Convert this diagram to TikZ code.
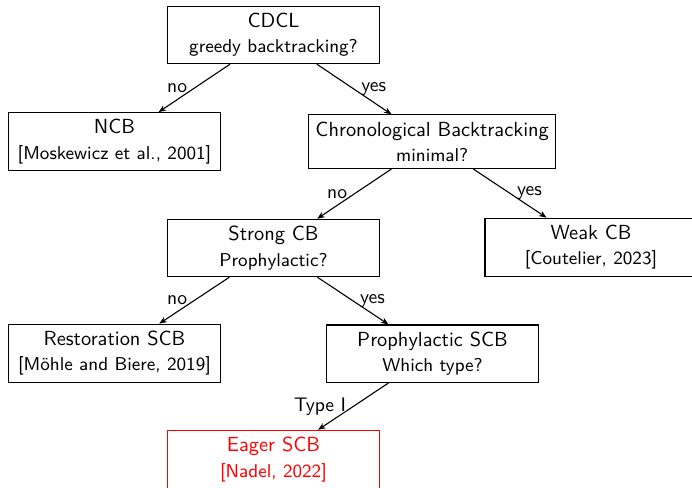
\documentclass[tikz,border=0pt]{standalone}
\usepackage{fontspec}
\usetikzlibrary{arrows.meta}
\renewcommand{\familydefault}{\sfdefault}
\tikzset{
  box/.style={draw, rectangle, align=center, minimum width=106pt, inner sep=3.4pt,
    line width=0.55pt, font=\sffamily\fontsize{10.2}{12.7}\selectfont},
  conn/.style={-{Stealth[length=3.8pt,width=3pt]}, line width=0.55pt},
  lab/.style={font=\sffamily\fontsize{9.8}{11}\selectfont, inner sep=3.3pt},
  hl/.style={draw=red, text=red}
}
\newcommand{\sub}{\fontsize{9.3}{12.7}\selectfont}
\begin{document}
\begin{tikzpicture}[x=0.5pt, y=-0.5pt]
\useasboundingbox (0,0) rectangle (692,488);
\node[box] (cdcl)   at (273.5,35)    {CDCL\\\sub greedy backtracking?};
\node[box] (ncb)    at (114.5,141.7) {NCB\\\sub [Moskewicz et al., 2001]};
\node[box] (chrono) at (432.2,141.7) {Chronological Backtracking\\\sub minimal?};
\node[box] (strong) at (273.5,248)   {Strong CB\\\sub Prophylactic?};
\node[box] (weak)   at (591,247.2)   {Weak CB\\\sub [Coutelier, 2023]};
\node[box] (rest)   at (114.5,353.3) {Restoration SCB\\\sub [Möhle and Biere, 2019]};
\node[box] (proph)  at (432.5,353.7) {Prophylactic SCB\\\sub Which type?};
\node[box,hl] (eager) at (273.5,459.5) {Eager SCB\\\sub [Nadel, 2022]};
\draw[conn] (cdcl) -- node[lab, midway, left] {no} (ncb);
\draw[conn] (cdcl) -- node[lab, midway, right] {yes} (chrono);
\draw[conn] (chrono) -- node[lab, midway, left] {no} (strong);
\draw[conn] (chrono) -- node[lab, midway, right] {yes} (weak);
\draw[conn] (strong) -- node[lab, midway, left] {no} (rest);
\draw[conn] (strong) -- node[lab, midway, right] {yes} (proph);
\draw[conn] (proph) -- node[lab, midway, left] {Type I} (eager);
\end{tikzpicture}
\end{document}
